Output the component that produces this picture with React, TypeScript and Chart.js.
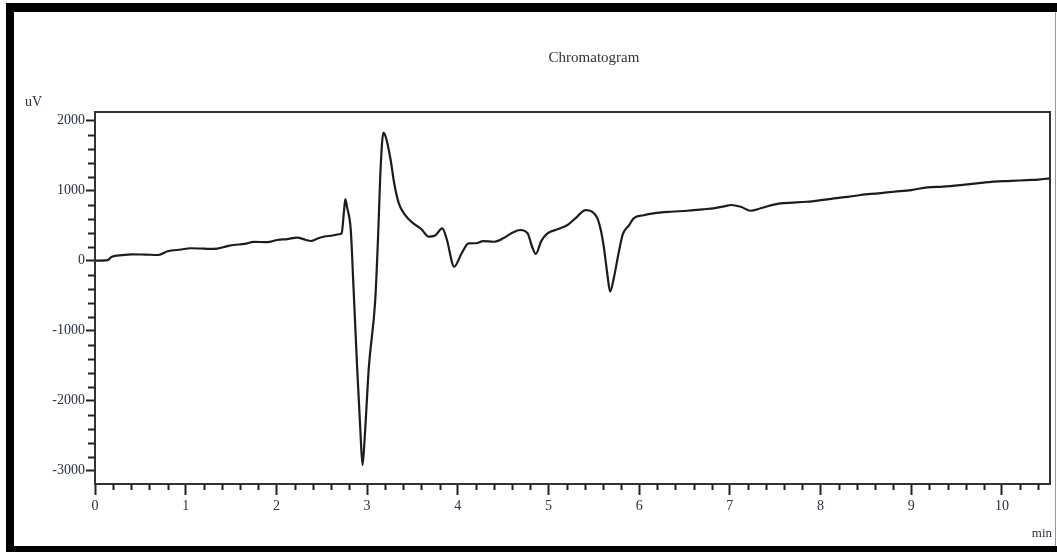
import React, { useEffect, useRef } from "react";
import { Chart, registerables } from "chart.js";

Chart.register(...registerables);

// Retention time (min)
const times: number[] = [
  0.0, 0.14, 0.18, 0.3, 0.4, 0.55, 0.7, 0.8, 0.95, 1.05, 1.2, 1.31, 1.45, 1.53,
  1.65, 1.75, 1.9, 2.01, 2.12, 2.23, 2.32, 2.38, 2.45, 2.52, 2.62, 2.69, 2.72,
  2.745, 2.76, 2.78, 2.82, 2.85, 2.89, 2.925, 2.95, 2.975, 3.02, 3.09, 3.12,
  3.15, 3.18, 3.21, 3.26, 3.3, 3.35, 3.42, 3.51, 3.6, 3.68, 3.75, 3.83, 3.88,
  3.96, 4.04, 4.12, 4.2, 4.28, 4.4, 4.5, 4.6, 4.69, 4.77, 4.82, 4.86, 4.92,
  4.99, 5.1, 5.21, 5.3, 5.41, 5.48, 5.54, 5.58, 5.61, 5.65, 5.68, 5.72, 5.78,
  5.82, 5.89, 5.94, 6.05, 6.16, 6.35, 6.53, 6.7, 6.82, 6.95, 7.01, 7.12, 7.23,
  7.34, 7.45, 7.56, 7.7, 7.85, 8.0, 8.15, 8.3, 8.44, 8.64, 8.81, 9.0, 9.18,
  9.35, 9.54, 9.72, 9.91, 10.1, 10.28, 10.4, 10.53,
];

// Detector signal (uV)
const signal: number[] = [
  0, 8, 55, 80, 92, 88, 82, 135, 160, 178, 172, 168, 205, 225,
  240, 270, 265, 296, 310, 330, 300, 282, 315, 343, 360, 378, 395,
  700, 880, 760, 440, -370, -1514, -2400, -2920, -2500, -1514, -561, 300,
  1343, 1830, 1750, 1439, 1100, 820, 650, 534, 450, 343, 360, 463, 300,
  -86, 100, 249, 250, 280, 271, 320, 400, 439, 391, 200, 96, 280,
  391, 450, 510, 610, 724, 700, 606, 420, 200, -200, -443, -250, 153,
  380, 510, 606, 650, 677, 700, 714, 735, 749, 780, 796, 771, 714,
  749, 790, 820, 830, 843, 865, 891, 912, 939, 963, 986, 1010, 1049,
  1060, 1081, 1105, 1129, 1140, 1153, 1160, 1177,
];

const xTickValues: number[] = [0, 1, 2, 3, 4, 5, 6, 7, 8, 9, 10];
const yTickValues: number[] = [-3000, -2000, -1000, 0, 1000, 2000];
const xMinorStep = 0.2;
const yMinorStep = 200;
const xRange = [0, 10.53];
const yRange = [-3190, 2125];

const chartTitle = "Chromatogram";
const yUnit = "uV";
const xUnit = "min";

const FONT = "'Liberation Serif', 'Times New Roman', serif";
const LABEL_COLOR = "#2a3048";
const AXIS_COLOR = "#222";

const decorPlugin = {
  id: "decor",
  afterDraw(chart: any) {
    const { ctx, chartArea, scales } = chart;
    const xs = scales.x;
    const ys = scales.y;
    ctx.save();
    // plot frame
    ctx.strokeStyle = "#333";
    ctx.lineWidth = 2;
    ctx.strokeRect(chartArea.left, chartArea.top, chartArea.right - chartArea.left, chartArea.bottom - chartArea.top);
    // minor ticks
    ctx.strokeStyle = AXIS_COLOR;
    ctx.lineWidth = 2;
    ctx.beginPath();
    for (let v = xRange[0]; v <= xRange[1] + 1e-9; v += xMinorStep) {
      const r = Math.round(v * 1000) / 1000;
      if (xTickValues.some((t) => Math.abs(t - r) < 1e-6)) continue;
      const px = Math.round(xs.getPixelForValue(r)) + 0.5;
      ctx.moveTo(px, chartArea.bottom);
      ctx.lineTo(px, chartArea.bottom + 6);
    }
    const yStart = Math.ceil(yRange[0] / yMinorStep) * yMinorStep;
    for (let v = yStart; v <= yRange[1]; v += yMinorStep) {
      if (yTickValues.includes(v)) continue;
      const py = Math.round(ys.getPixelForValue(v)) + 0.5;
      ctx.moveTo(chartArea.left - 7, py);
      ctx.lineTo(chartArea.left, py);
    }
    ctx.stroke();
    // texts
    ctx.fillStyle = "#333";
    ctx.font = `15px ${FONT}`;
    ctx.textAlign = "center";
    ctx.textBaseline = "middle";
    ctx.fillText(chartTitle, 594, 58);
    ctx.fillStyle = LABEL_COLOR;
    ctx.font = `14px ${FONT}`;
    ctx.textAlign = "left";
    ctx.fillText(yUnit, 25, 102);
    ctx.font = `13px ${FONT}`;
    ctx.textAlign = "right";
    ctx.fillText(xUnit, 1052, 534);
    ctx.restore();
  },
};

export default function App() {
  const ref = useRef<HTMLCanvasElement | null>(null);

  useEffect(() => {
    if (!ref.current) return;
    const chart = new Chart(ref.current, {
      type: "line",
      data: {
        datasets: [
          {
            data: times.map((t, i) => ({ x: t, y: signal[i] })),
            borderColor: "#1c1c1c",
            borderWidth: 2.2,
            pointRadius: 0,
            cubicInterpolationMode: "monotone",
            fill: false,
          },
        ],
      },
      options: {
        responsive: false,
        animation: false,
        layout: { padding: { left: 0, right: 7, top: 112, bottom: 0 } },
        plugins: { legend: { display: false }, tooltip: { enabled: false }, title: { display: false } },
        scales: {
          x: {
            type: "linear",
            position: "bottom",
            min: xRange[0],
            max: xRange[1],
            afterBuildTicks: (s: any) => {
              s.ticks = xTickValues.map((v) => ({ value: v }));
            },
            afterFit: (s: any) => {
              s.height = 68;
            },
            ticks: {
              autoSkip: false,
              maxRotation: 0,
              padding: 3,
              color: LABEL_COLOR,
              font: { family: FONT, size: 14 },
              callback: (v: any) => String(v),
            },
            grid: { drawOnChartArea: false, drawTicks: true, tickLength: 11, tickWidth: 2, tickColor: AXIS_COLOR },
            border: { display: true, color: AXIS_COLOR, width: 2 },
          },
          y: {
            type: "linear",
            min: yRange[0],
            max: yRange[1],
            afterBuildTicks: (s: any) => {
              s.ticks = yTickValues.map((v) => ({ value: v }));
            },
            afterFit: (s: any) => {
              s.width = 95;
            },
            ticks: {
              autoSkip: false,
              padding: 1,
              color: LABEL_COLOR,
              font: { family: FONT, size: 14 },
              callback: (v: any) => String(v),
            },
            grid: { drawOnChartArea: false, drawTicks: true, tickLength: 9, tickWidth: 2, tickColor: AXIS_COLOR },
            border: { display: true, color: AXIS_COLOR, width: 2 },
          },
        },
      },
      plugins: [decorPlugin],
    } as any);
    return () => chart.destroy();
  }, []);

  return (
    <div style={{ position: "absolute", left: 0, top: 0, width: 1057, height: 552, background: "#fff", overflow: "hidden" }}>
      <div style={{ position: "absolute", left: 6, top: 3, width: 1051, height: 9, background: "#000" }} />
      <div style={{ position: "absolute", left: 6, top: 3, width: 8, height: 549, background: "#000" }} />
      <div style={{ position: "absolute", left: 6, top: 546, width: 1051, height: 6, background: "#000" }} />
      <div style={{ position: "absolute", left: 1055, top: 12, width: 1, height: 534, background: "#999" }} />
      <canvas ref={ref} width={1057} height={552} style={{ position: "absolute", left: 0, top: 0, width: 1057, height: 552 }} />
    </div>
  );
}
